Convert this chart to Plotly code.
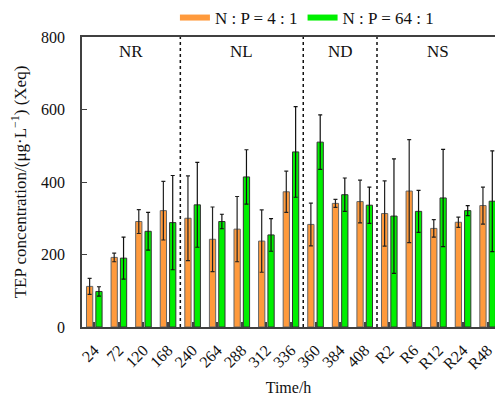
import plotly.graph_objects as go

categories = ["24", "72", "120", "168", "240", "264", "288", "312", "336",
              "360", "384", "408", "R2", "R6", "R12", "R24", "R48"]
np4_values = [112, 192, 291, 321, 300, 242, 270, 237, 373, 283, 341, 346, 313, 375, 272, 289, 335]
np4_errors = [22, 12, 33, 81, 117, 89, 90, 86, 57, 59, 11, 59, 90, 142, 24, 14, 51]
np64_values = [98, 190, 264, 288, 337, 291, 414, 254, 483, 510, 365, 336, 306, 319, 356, 321, 347]
np64_errors = [13, 58, 52, 130, 117, 20, 75, 45, 125, 75, 46, 50, 158, 58, 134, 14, 139]
phase_labels = ["NR", "NL", "ND", "NS"]
phase_centers = [1.5, 6, 10, 14]
phase_bounds = [3.5, 8.5, 11.5]

FONT = "Liberation Serif"
ORANGE = "#FF9A3C"
GREEN = "#00F000"

fig = go.Figure()
fig.add_trace(go.Bar(
    x=categories, y=np4_values, name="N : P = 4 : 1", showlegend=False,
    marker=dict(color=ORANGE, line=dict(color="#666666", width=1)),
    error_y=dict(type="data", array=np4_errors, color="#222222", thickness=1.2, width=2),
))
fig.add_trace(go.Bar(
    x=categories, y=np64_values, name="N : P = 64 : 1", showlegend=False,
    marker=dict(color=GREEN, line=dict(color="#333333", width=1)),
    error_y=dict(type="data", array=np64_errors, color="#111111", thickness=1.2, width=2),
))
# legend entries
fig.add_trace(go.Scatter(x=[None], y=[None], mode="lines", name="N : P = 4 : 1",
                         line=dict(color=ORANGE, width=6)))
fig.add_trace(go.Scatter(x=[None], y=[None], mode="lines", name="N : P = 64 : 1",
                         line=dict(color=GREEN, width=6)))

shapes = []
for b in phase_bounds:
    shapes.append(dict(type="line", xref="x", yref="paper", x0=b, x1=b, y0=0, y1=1,
                       line=dict(color="#111111", width=1.5, dash="dot")))
annotations = []
for lab, c in zip(phase_labels, phase_centers):
    annotations.append(dict(x=c, y=1, xref="x", yref="paper", text=lab, showarrow=False,
                            yanchor="top", yshift=-3, font=dict(family=FONT, size=17, color="#111")))

fig.update_layout(
    width=495, height=400,
    margin=dict(l=82, r=0, t=34, b=73),
    paper_bgcolor="white", plot_bgcolor="white",
    font=dict(family=FONT, size=15, color="#111111"),
    barmode="group", bargap=0.24, bargroupgap=0.33,
    shapes=shapes, annotations=annotations,
    legend=dict(orientation="h", x=0.225, y=1.005, xanchor="left", yanchor="bottom",
                font=dict(family=FONT, size=17), bgcolor="rgba(0,0,0,0)",
                itemwidth=30, tracegroupgap=0),
    xaxis=dict(type="category", range=[-0.5, 16.3], tickangle=-45,
               showline=True, linecolor="#404040", linewidth=1.5, mirror=True,
               ticks="inside", ticklen=5, tickwidth=2, tickcolor="#444444",
               ticklabelstandoff=6, tickfont=dict(family=FONT, size=16),
               title=dict(text="Time/h", font=dict(family=FONT, size=16), standoff=10),
               showgrid=False, zeroline=False),
    yaxis=dict(range=[0, 800], dtick=200, showline=True, linecolor="#404040", linewidth=1.5,
               ticks="inside", ticklen=5, tickcolor="#404040",
               ticklabelstandoff=12, tickfont=dict(family=FONT, size=16),
               title=dict(text="TEP concentration/(μg·L<sup>−1</sup>) (Xeq)",
                          font=dict(family=FONT, size=17), standoff=10),
               showgrid=False, zeroline=False),
)

fig.write_html("out.html")
